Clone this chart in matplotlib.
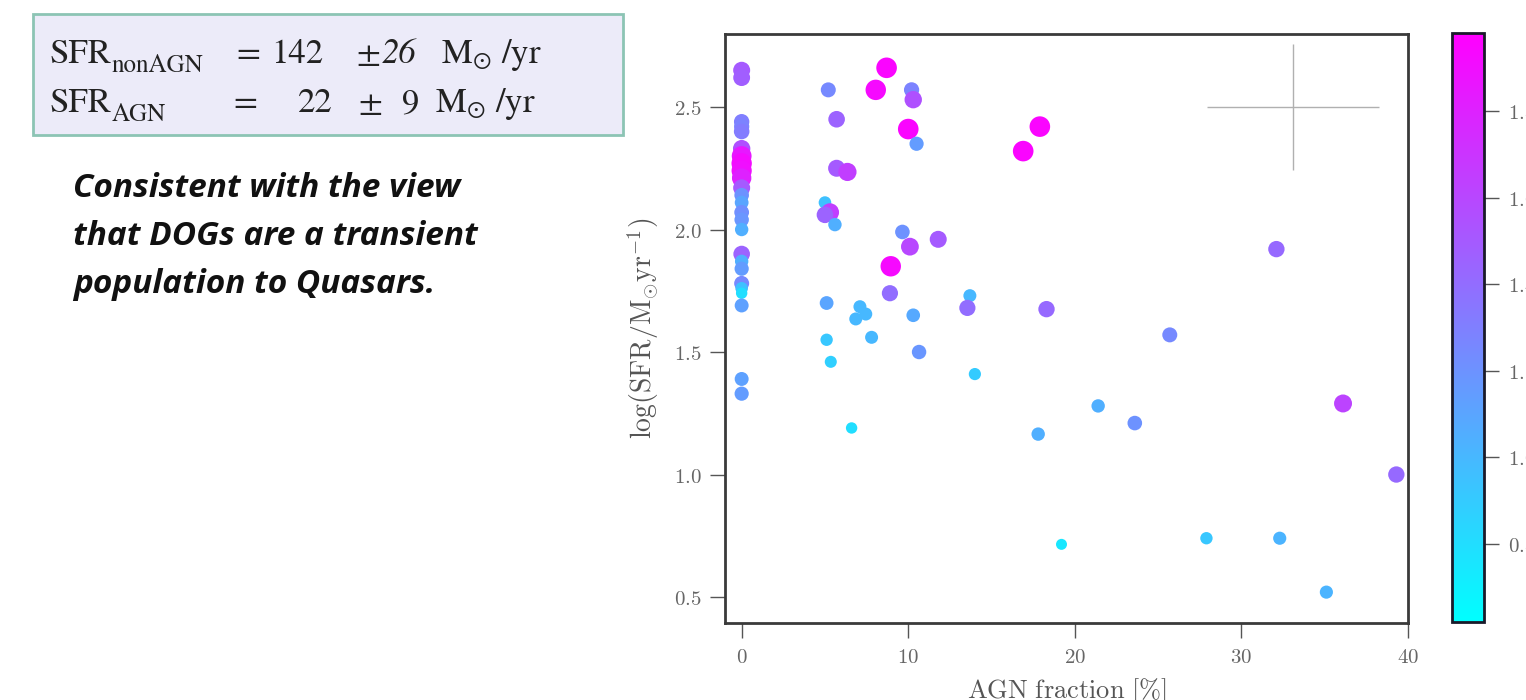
import numpy as np
import matplotlib
matplotlib.use("Agg")
import matplotlib.pyplot as plt
from matplotlib.patches import Rectangle

# ---------------- data ----------------
agn_fraction = [0, 0, 0, 0, 0, 0, 0, 0, 0, 0, 0, 0, 0, 0, 0, 0, 0, 0, 0, 0, 0, 0, 0, 0, 0,
                5.2, 8.7, 8.05, 10.2, 10.3, 5.7, 10.0, 10.5, 5.7, 6.35,
                5.0, 5.3, 5.0, 5.6, 9.65, 11.8, 10.1, 8.95, 8.9, 5.1,
                7.1, 7.45, 6.85, 10.3, 7.8, 5.1, 5.35, 10.65, 6.6, 13.7,
                13.55, 18.3, 25.7, 14.0, 21.4, 23.6, 17.8, 16.9, 17.9, 32.1,
                36.1, 39.3, 27.9, 32.3, 35.1, 19.2]
log_sfr = [2.65, 2.62, 2.44, 2.42, 2.40, 2.33, 2.30, 2.27, 2.24, 2.21,
           2.17, 2.14, 2.11, 2.07, 2.04, 2.00, 1.90, 1.87, 1.84, 1.78,
           1.76, 1.74, 1.69, 1.39, 1.33,
           2.57, 2.66, 2.57, 2.57, 2.53, 2.45, 2.41, 2.35, 2.25, 2.235,
           2.11, 2.07, 2.06, 2.02, 1.99, 1.96, 1.93, 1.85, 1.74, 1.70,
           1.685, 1.655, 1.635, 1.65, 1.56, 1.55, 1.46, 1.50, 1.19, 1.73,
           1.68, 1.675, 1.57, 1.41, 1.28, 1.21, 1.165, 2.32, 2.42, 1.92,
           1.29, 1.00, 0.74, 0.74, 0.52, 0.715]
color_value = [1.50, 1.48, 1.30, 1.28, 1.32, 1.55, 1.85, 1.92, 1.90, 1.80,
               1.50, 1.20, 1.10, 1.22, 1.18, 1.05, 1.45, 1.05, 1.15, 1.25,
               0.95, 0.80, 1.12, 1.12, 1.15,
               1.25, 1.95, 1.93, 1.28, 1.55, 1.45, 1.95, 1.15, 1.50, 1.65,
               0.95, 1.65, 1.45, 1.05, 1.20, 1.50, 1.60, 1.93, 1.40, 1.10,
               1.00, 1.00, 1.00, 1.08, 1.00, 0.92, 0.88, 1.18, 0.80, 1.00,
               1.40, 1.42, 1.25, 0.90, 1.05, 1.20, 1.05, 1.95, 1.95, 1.42,
               1.62, 1.42, 0.92, 1.02, 1.02, 0.75]

# representative error cross
err_x, err_y = 33.1, 2.5
err_xsize, err_ysize = 5.15, 0.257

x_ticks = [0, 10, 20, 30, 40]
y_ticks = [0.5, 1.0, 1.5, 2.0, 2.5]
cbar_ticks = [0.8, 1.0, 1.2, 1.4, 1.6, 1.8]
c_min, c_max = 0.62, 1.98

# annotation text
summary_rows = [
    ("SFR", "nonAGN", "=", "142", "26", "M$_{\\odot}$ /yr"),
    ("SFR", "AGN", "=", "22", "9", "M$_{\\odot}$ /yr"),
]
message_lines = [
    "Consistent with the view",
    "that DOGs are a transient",
    "population to Quasars.",
]

# ---------------- figure ----------------
W, H = 1526, 700
fig = plt.figure(figsize=(W / 100, H / 100), dpi=100)
fig.patch.set_facecolor("white")

def fx(px):
    return px / W

def fy(py):
    return 1 - py / H

# left text box
box = Rectangle((fx(33), fy(135)), fx(623) - fx(33), fy(14) - fy(135),
                transform=fig.transFigure, facecolor="#ecebf9",
                edgecolor="#8cc4b4", linewidth=2.0, zorder=0)
fig.patches.append(box)

tk = dict(fontsize=25, family="STIXGeneral", math_fontfamily="stix",
          color="#222222", va="baseline", ha="left")
sub = dict(tk, fontsize=18)
row_y = [63, 112]
# x positions (pixels) of pieces: name, subscript, '=', value, '±', error, unit
row_x = [[49, 112, 236, 271, 356, 382, 441],
         [49, 112, 233, 298, 358, 402, 435]]
for (name, subs, eq, val, err, unit), yy, xs in zip(summary_rows, row_y, row_x):
    fig.text(fx(xs[0]), fy(yy), name, **tk)
    fig.text(fx(xs[1]), fy(yy + 9), subs, **sub)
    fig.text(fx(xs[2]), fy(yy), eq, **tk)
    fig.text(fx(xs[3]), fy(yy), val, **tk)
    fig.text(fx(xs[4]), fy(yy), "\u00b1", **tk)
    if err == "26":
        fig.text(fx(xs[5]), fy(yy), err, style="italic", **tk)
    else:
        fig.text(fx(xs[5]), fy(yy), err, **tk)
    fig.text(fx(xs[6]), fy(yy), unit, **tk)

bt = dict(fontsize=24, family="Open Sans", weight="bold", style="italic",
          color="#111111", va="baseline", ha="left")
line_y = [197, 245, 293]
for line, yy in zip(message_lines, line_y):
    fig.text(fx(73), fy(yy), line, **bt)

# ---------------- scatter axes ----------------
ax = fig.add_axes([fx(725), fy(623), fx(1408) - fx(725), fy(34) - fy(623)])
cv = np.asarray(color_value)
sizes = (0.72 * (11 + (cv - 0.75) * 8.0)) ** 2
sc = ax.scatter(agn_fraction, log_sfr, c=color_value, cmap="cool",
                vmin=c_min, vmax=c_max, s=sizes, edgecolors="none", zorder=3)
ax.errorbar([err_x], [err_y], xerr=[err_xsize], yerr=[err_ysize], fmt="none",
            ecolor="#b0b0b0", elinewidth=1.0, capsize=0, zorder=2)

ax.set_xlim(-1.0, 40.0)
ax.set_ylim(0.394, 2.798)
ax.set_xticks(x_ticks)
ax.set_yticks(y_ticks)
ax.set_xticklabels([f"${v}$" for v in x_ticks])
ax.set_yticklabels([f"${v:.1f}$" for v in y_ticks])
for sp in ax.spines.values():
    sp.set_color("#3a3a3a")
    sp.set_linewidth(2.0)
ax.tick_params(direction="out", length=11, width=1.0, color="#555555",
               labelcolor="#666666", labelsize=15, pad=6)
for lab in ax.get_xticklabels() + ax.get_yticklabels():
    lab.set_math_fontfamily("cm")

ax.set_ylabel(r"$\mathrm{log(SFR/M_{\odot}yr^{-1})}$", fontsize=20,
              color="#555555", math_fontfamily="cm", labelpad=9)
ax.set_xlabel(r"$\mathrm{AGN\ fraction\ [\%]}$", fontsize=19,
              color="#555555", math_fontfamily="cm", labelpad=7)

# ---------------- colorbar ----------------
cax = fig.add_axes([fx(1452), fy(622), fx(1484) - fx(1452), fy(33) - fy(622)])
cb = fig.colorbar(sc, cax=cax, ticks=cbar_ticks)
cb.outline.set_edgecolor("#1a1a2a")
cb.outline.set_linewidth(2.0)
cax.tick_params(direction="out", length=11, width=1.0, color="#555555",
                labelcolor="#666666", labelsize=15, pad=6)
cax.set_yticklabels([f"${v:.1f}$" for v in cbar_ticks])
for lab in cax.get_yticklabels():
    lab.set_math_fontfamily("cm")

fig.savefig("out.png", dpi=100)
